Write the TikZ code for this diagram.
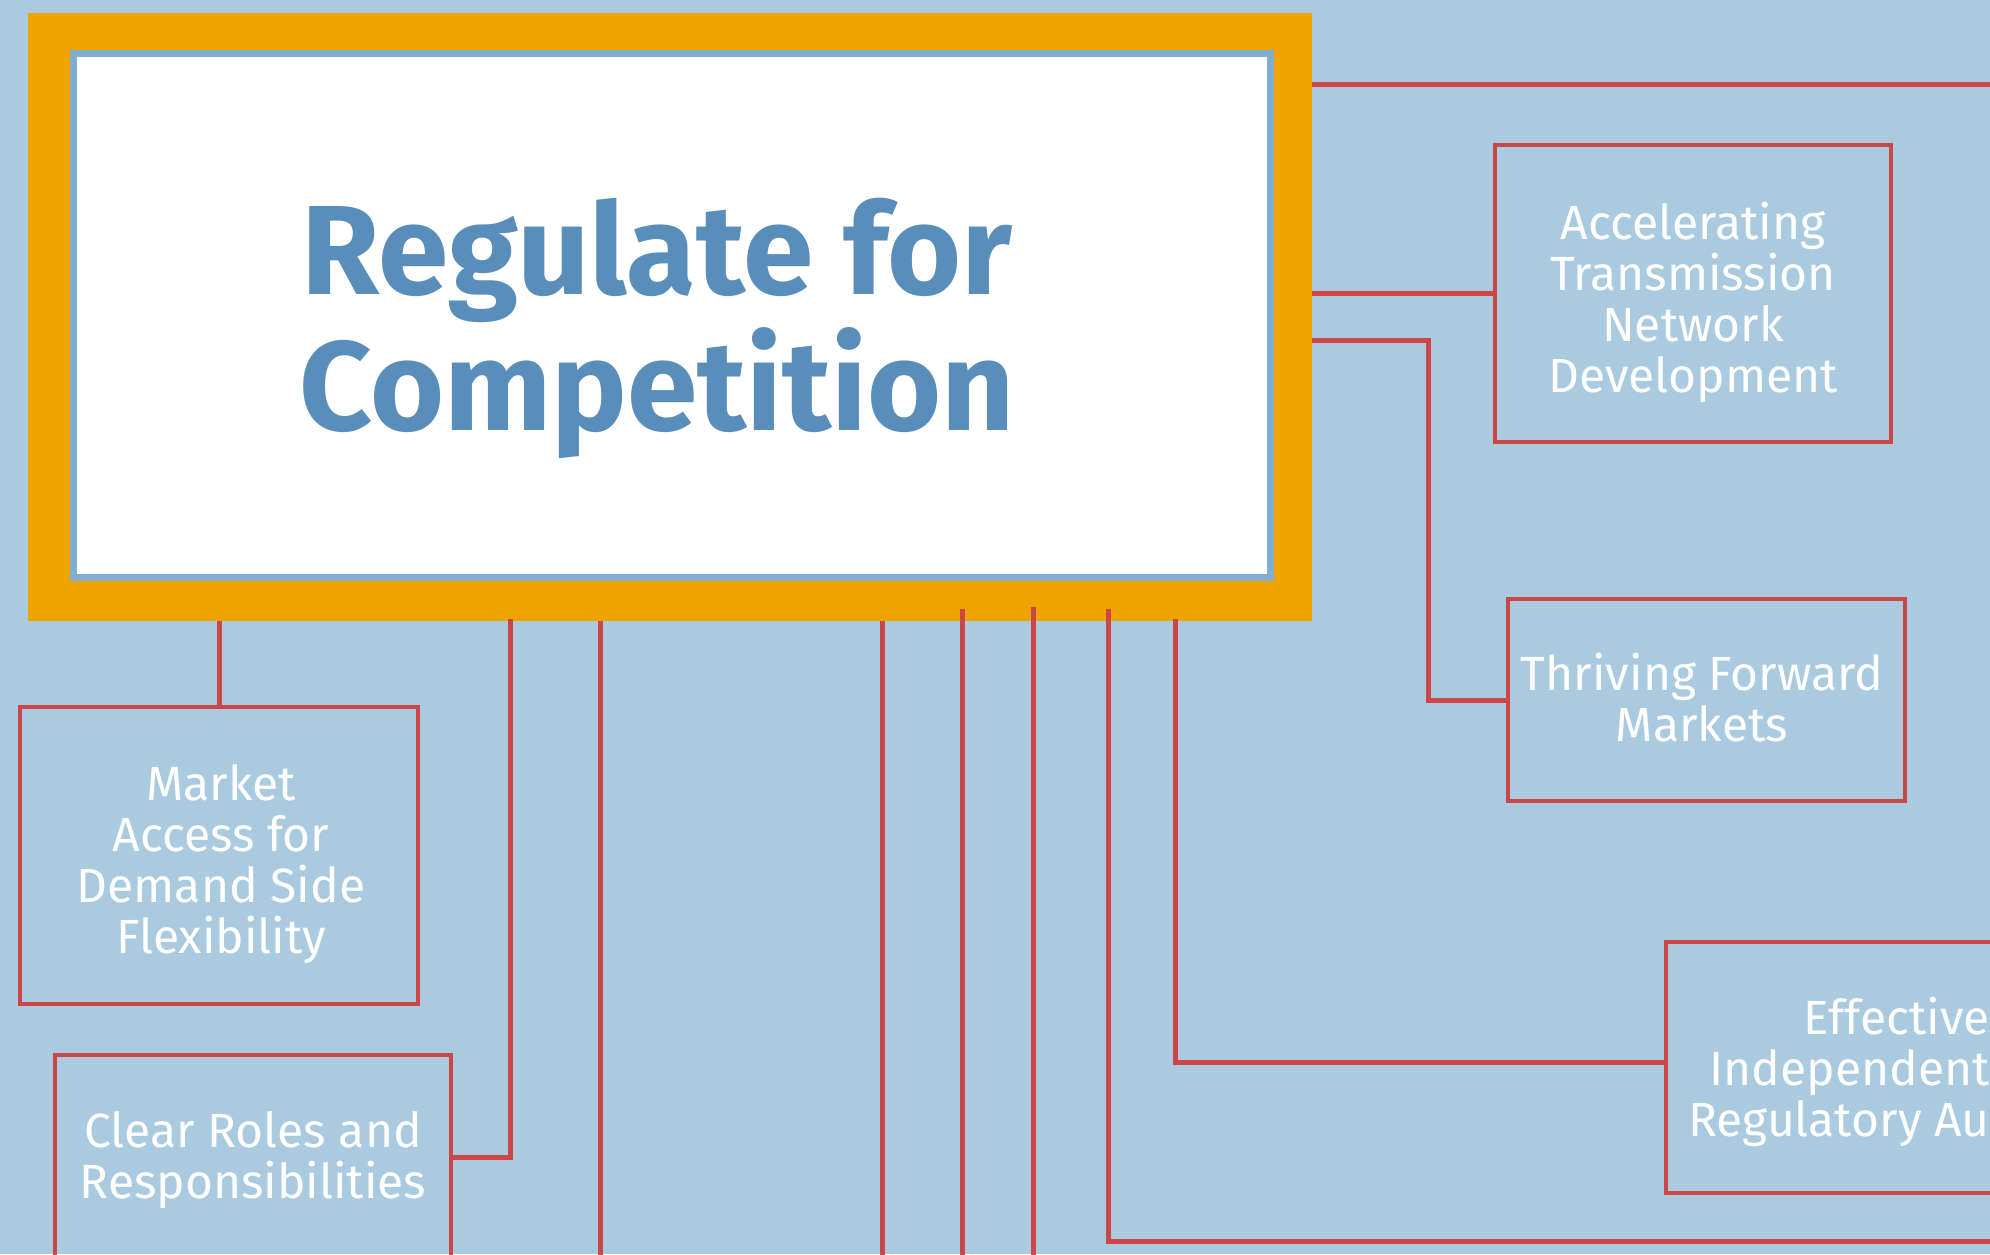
\documentclass[tikz,border=0pt]{standalone}
\usepackage{fontspec}
\setmainfont{Fira Sans}
\definecolor{bgblue}{HTML}{AACADF}
\definecolor{frameorange}{HTML}{EEA300}
\definecolor{innerblue}{HTML}{80AED1}
\definecolor{titleblue}{HTML}{5A8EBA}
\definecolor{linered}{HTML}{CB4747}
\tikzset{
  conn/.style={draw=linered, line width=5pt},
  topicbox/.style={draw=linered, line width=4pt, inner sep=0pt},
  boxtext/.style={text=white, align=center, inner sep=0pt,
    font=\fontsize{48}{51}\selectfont},
  titletext/.style={text=titleblue, align=center, inner sep=0pt,
    font=\fontsize{127}{136}\selectfont\bfseries}
}
\begin{document}
\begin{tikzpicture}[x=1pt,y=-1pt]
\useasboundingbox (0,0) rectangle (1990,1254);
\clip (0,0) rectangle (1990,1254);
\fill[bgblue] (0,0) rectangle (1990,1254);

% main frame
\node[fill=frameorange, minimum width=1284pt, minimum height=608pt, inner sep=0pt] (frame) at (670,317) {};
\node[fill=white, draw=innerblue, line width=7pt, minimum width=1197pt, minimum height=524pt, inner sep=0pt] (main) at (672,315.5) {};
\node[titletext] (title) at (657,328) {Regulate for\\Competition};

% topic boxes
\node[topicbox, minimum width=396pt, minimum height=297pt] (acc) at (1693,293.5) {};
\node[boxtext] (acct) at (1693,302) {Accelerating\\Transmission\\Network\\Development};

\node[topicbox, minimum width=397pt, minimum height=202pt] (thr) at (1706.5,700) {};
\node[boxtext] (thrt) at (1702,698) {Thriving Forward\\Markets};

\node[topicbox, minimum width=434pt, minimum height=251pt] (eff) at (1883,1067.5) {};
\node[boxtext, align=right, anchor=east] (efft) at (1990,1072) {Effective\\Independent\\Regulatory Au};

\node[topicbox, minimum width=398pt, minimum height=297pt] (mkt) at (219,855.5) {};
\node[boxtext] (mktt) at (221,864) {Market\\Access for\\Demand Side\\Flexibility};

\node[topicbox, minimum width=396pt, minimum height=204pt] (clr) at (253,1157) {};
\node[boxtext] (clrt) at (253,1160) {Clear Roles and\\Responsibilities};

% free ends
\coordinate (e1) at (2000,84);
\coordinate (k3) at (1428,340);
\coordinate (k5) at (510,619);
\coordinate (b6) at (600,1270);
\coordinate (b7) at (882,1270);
\coordinate (b8) at (962,1270);
\coordinate (b9) at (1033,1270);
\coordinate (k10) at (1108,1241);
\coordinate (e10) at (2000,1241);
\coordinate (k11) at (1175,619);

% connectors
\draw[conn] (e1 -| frame.east) -- (e1);
\draw[conn] (acc.west -| frame.east) -- (acc.west);
\draw[conn] (k3 -| frame.east) -- (k3) |- (thr.west);
\draw[conn] (mkt.north |- frame.south) -- (mkt.north);
\draw[conn] (k5) |- (clr.east);
\draw[conn] (b6 |- frame.south) -- (b6);
\draw[conn] (b7 |- frame.south) -- (b7);
\draw[conn] ([yshift=12pt]b8 |- frame.south) -- (b8);
\draw[conn] ([yshift=14pt]b9 |- frame.south) -- (b9);
\draw[conn] ([yshift=12pt]k10 |- frame.south) -- (k10) -- (e10);
\draw[conn] (k11) |- ([yshift=5pt]eff.west);
\end{tikzpicture}
\end{document}
